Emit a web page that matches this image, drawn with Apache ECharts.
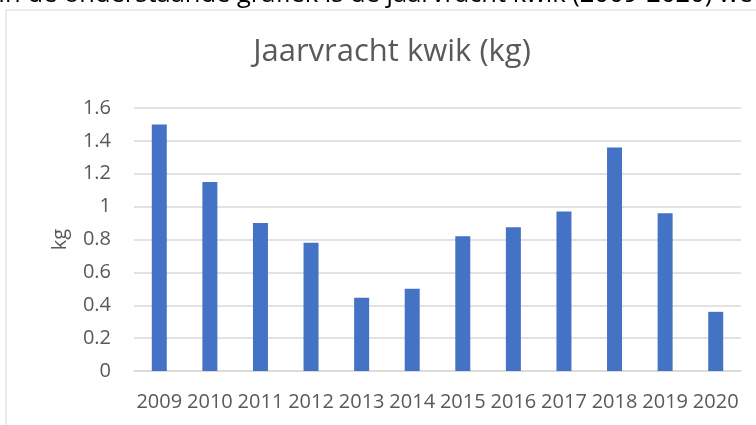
<!DOCTYPE html>
<html>
<head>
<meta charset="utf-8">
<script src="https://cdn.jsdelivr.net/npm/echarts@6/dist/echarts.min.js"></script>
<style>
  html, body { margin: 0; padding: 0; background: #fff; }
  #chart { width: 756px; height: 425px; }
</style>
</head>
<body>
<div id="chart"></div>
<script>
// jaren en jaarvracht kwik (kg)
var years = ['2009', '2010', '2011', '2012', '2013', '2014', '2015', '2016', '2017', '2018', '2019', '2020']
var kwik = [1.50, 1.15, 0.90, 0.78, 0.445, 0.50, 0.82, 0.875, 0.97, 1.36, 0.96, 0.36]
var yTicks = [0, 0.2, 0.4, 0.6, 0.8, 1, 1.2, 1.4, 1.6]

var font = '"Open Sans", "Noto Sans", sans-serif'
var grey = '#595959'

var chart = echarts.init(document.getElementById('chart'))

var options = {
  animation: false,
  backgroundColor: '#fff',
  title: {
    text: 'Jaarvracht kwik (kg)',
    left: 387,
    top: 32,
    textAlign: 'center',
    textStyle: { fontFamily: font, fontSize: 31, fontWeight: 'normal', color: grey }
  },
  graphic: [
    {
      // afgesneden regel tekst boven de grafiek
      type: 'text',
      left: -2,
      top: -18,
      style: {
        text: 'In de onderstaande grafiek is de jaarvracht kwik (2009-2020) weergegeven',
        font: '25.5px ' + font,
        fill: '#000'
      }
    },
    {
      type: 'rect',
      shape: { x: 6, y: 10, width: 800, height: 500 },
      style: { fill: 'none', stroke: '#d9d9d9', lineWidth: 1 }
    }
  ],
  grid: { left: 134, right: 15, top: 108, bottom: 54 },
  xAxis: {
    type: 'category',
    data: years,
    axisLine: { lineStyle: { color: '#d9d9d9', width: 1.5 } },
    axisTick: { show: false },
    axisLabel: { interval: 0, margin: 21, fontFamily: font, fontSize: 20, color: grey }
  },
  yAxis: {
    type: 'value',
    min: yTicks[0],
    max: yTicks[yTicks.length - 1],
    interval: 0.2,
    name: 'kg',
    nameLocation: 'middle',
    nameGap: 64,
    nameTextStyle: { fontFamily: font, fontSize: 20, color: grey },
    axisLine: { show: false },
    axisTick: { show: false },
    splitLine: { lineStyle: { color: '#d9d9d9', width: 1.5 } },
    axisLabel: {
      margin: 23,
      fontFamily: font,
      fontSize: 20,
      color: grey,
      formatter: function (v) { return String(Math.round(v * 10) / 10) }
    }
  },
  series: [
    {
      type: 'bar',
      data: kwik,
      barWidth: 15,
      itemStyle: { color: '#4472c4' }
    }
  ]
}

chart.setOption(options)
</script>
</body>
</html>
